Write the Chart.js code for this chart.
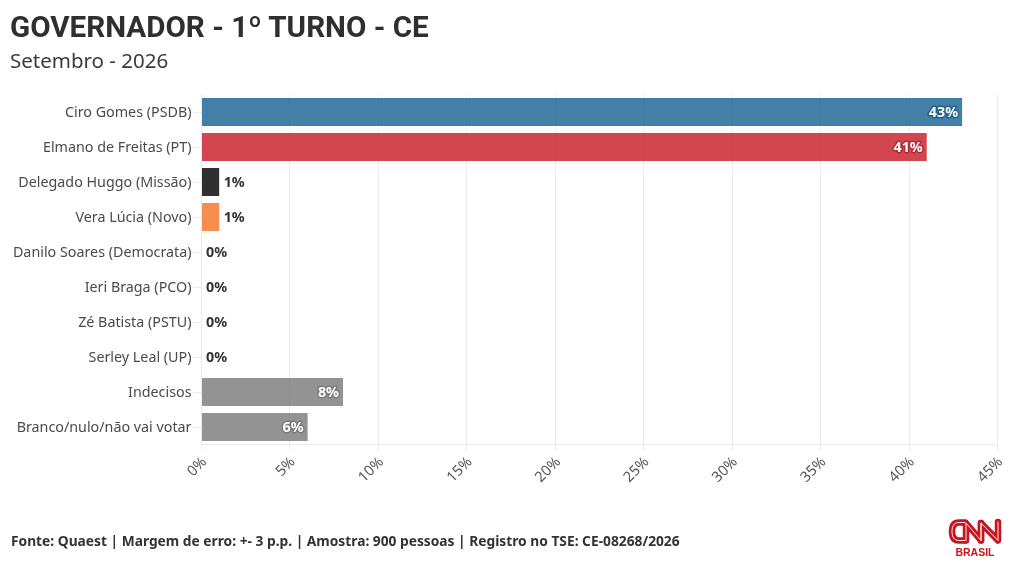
<!DOCTYPE html>
<html><head><meta charset="utf-8">
<script src="https://cdn.jsdelivr.net/npm/chart.js@4"></script>
<style>
html,body{margin:0;padding:0;background:#fff;overflow:hidden}
#wrap{position:relative;width:1020px;height:588px}
canvas{position:absolute;left:0;top:0}
.t{position:absolute;white-space:nowrap;color:#2f2f2f}
#title{left:10px;top:9px;font:700 29.6px/36px Roboto,sans-serif}
#sub{left:10px;top:47px;font:400 20.5px/26px "Noto Sans",sans-serif;color:#3a3a3a}
#src{left:11px;top:531px;font:700 13.77px/20px "Noto Sans",sans-serif;color:#333}
#logo{position:absolute;left:948px;top:518px}
#br{position:absolute;left:948px;top:546px;width:54px;text-align:center;font:700 10.5px/13px "Liberation Sans",sans-serif;color:#c8141e}
</style></head><body>
<div id="wrap">
<canvas id="c" width="1020" height="588"></canvas>
<div class="t" id="title">GOVERNADOR - 1º TURNO - CE</div>
<div class="t" id="sub">Setembro - 2026</div>
<div class="t" id="src">Fonte: Quaest | Margem de erro: +- 3 p.p. | Amostra: 900 pessoas | Registro no TSE: CE-08268/2026</div>
<svg id="logo" width="54" height="28" viewBox="0 0 54 28" fill="none" stroke-linejoin="round" stroke-linecap="round">
<g stroke="#c8141e" stroke-width="6.5"><path d="M17 4.5H11C6 4.5 4 8 4 13.5C4 19 6 22.5 11 22.5H17"/><path d="M18 22.5V5L33 22.5V5"/><path d="M33 22.5V5L50 22.5V4" /></g>
<g stroke="#fff" stroke-width="0.9"><path d="M17 4.5H11C6 4.5 4 8 4 13.5C4 19 6 22.5 11 22.5H17"/><path d="M18 22.5V5L33 22.5V5"/><path d="M33 22.5V5L50 22.5V4" /></g>
</svg>
<div id="br">BRASIL</div>
</div>
<script>
const categories=["Ciro Gomes (PSDB)","Elmano de Freitas (PT)","Delegado Huggo (Missão)","Vera Lúcia (Novo)","Danilo Soares (Democrata)","Ieri Braga (PCO)","Zé Batista (PSTU)","Serley Leal (UP)","Indecisos","Branco/nulo/não vai votar"];
const values=[43,41,1,1,0,0,0,0,8,6];
const barColors=["rgba(47,114,158,0.9)","rgba(204,50,60,0.9)","rgba(30,30,30,0.92)","rgba(245,130,60,0.9)","#888","#888","#888","#888","rgba(128,128,128,0.85)","rgba(128,128,128,0.85)"];
const haloColors=["#1f6289","#b52a35","","","","","","","#7b7b7b","#7b7b7b"];
const xTicks=[0,5,10,15,20,25,30,35,40,45];
const gridColor="#ebebeb";

const valueLabels={id:"valueLabels",afterDatasetsDraw(chart){
  const ctx=chart.ctx,meta=chart.getDatasetMeta(0);
  ctx.save();ctx.font='700 14.3px "Noto Sans",sans-serif';ctx.textBaseline="middle";ctx.lineJoin="round";
  meta.data.forEach((bar,i)=>{
    const v=values[i],txt=v+"%";
    if(v>=5){
      ctx.textAlign="right";ctx.strokeStyle=haloColors[i];ctx.lineWidth=3;
      ctx.strokeText(txt,bar.x-4,bar.y+1);
      ctx.fillStyle="#fff";ctx.fillText(txt,bar.x-4,bar.y+1);
    }else{
      ctx.textAlign="left";ctx.fillStyle="#333";
      ctx.fillText(txt,bar.x+4.5,bar.y+1);
    }
  });
  ctx.restore();
}};

new Chart(document.getElementById("c"),{
  type:"bar",
  data:{labels:categories,datasets:[{data:values,backgroundColor:barColors,barPercentage:0.8,categoryPercentage:1,borderWidth:0}]},
  plugins:[valueLabels],
  options:{
    indexAxis:"y",responsive:false,animation:false,devicePixelRatio:1,
    layout:{padding:{top:94.5,right:22.5,left:0,bottom:0}},
    plugins:{legend:{display:false},title:{display:false},tooltip:{enabled:false}},
    scales:{
      x:{type:"linear",min:0,max:45,
        afterFit(s){s.height=143.5;},
        afterBuildTicks(s){s.ticks=xTicks.map(v=>({value:v}));},
        grid:{color:gridColor,lineWidth:1,tickLength:6,tickColor:gridColor},
        border:{color:gridColor},
        ticks:{callback:v=>v+"%",color:"#555",font:{family:'"Noto Sans",sans-serif',size:14.6},minRotation:45,maxRotation:45,padding:3,labelOffset:3,autoSkip:false}},
      y:{afterFit(s){s.width=201.5;},
        grid:{offset:false,drawOnChartArea:false,color:gridColor,tickLength:8,tickColor:gridColor},
        border:{color:gridColor},
        ticks:{color:"#4a4a4a",font:{family:'"Noto Sans",sans-serif',size:14.3},padding:2,labelOffset:1,autoSkip:false}}
    }
  }
});
</script>
</body></html>
